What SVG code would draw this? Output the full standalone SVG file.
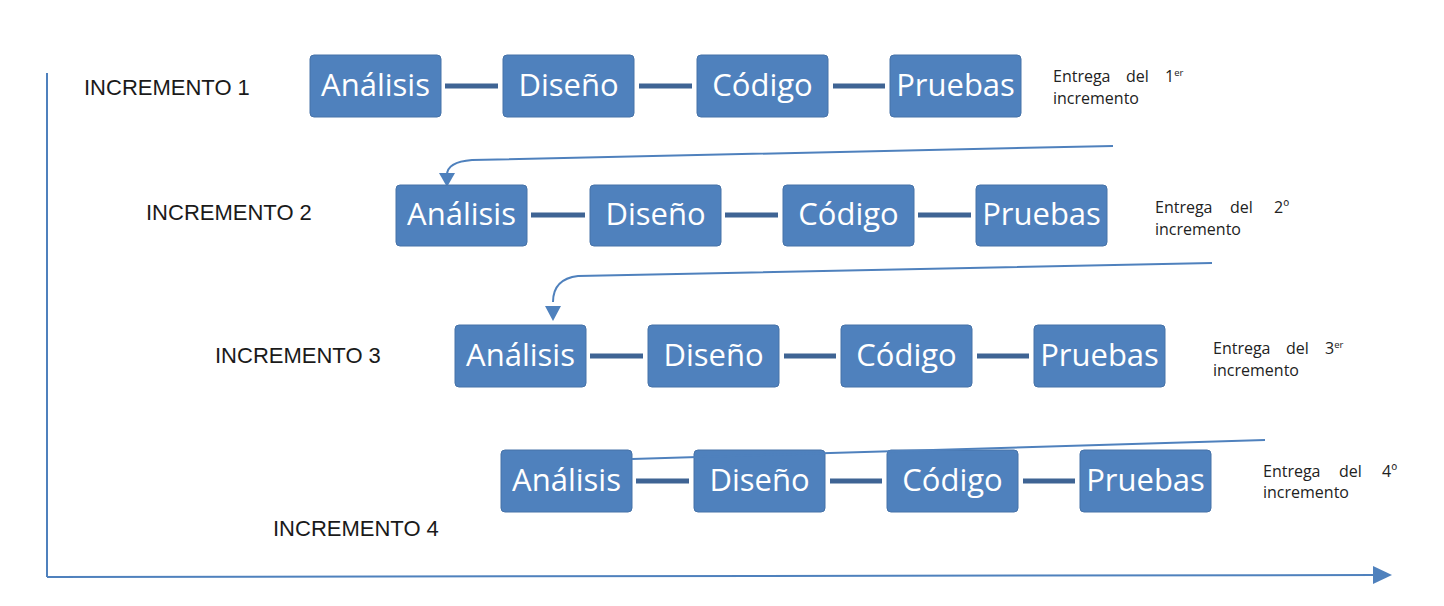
<svg xmlns="http://www.w3.org/2000/svg" width="1444" height="606" viewBox="0 0 1444 606">
<defs>
<style>
.box{fill:#4F81BD;stroke:#4672A8;stroke-width:1}
.bt{font-family:"Open Sans","Liberation Sans",sans-serif;font-size:31px;fill:#ffffff;text-anchor:middle}
.lk{stroke:#3F6494;stroke-width:5;fill:none}
.inc{font-family:"Liberation Sans",Arial,sans-serif;font-size:22px;fill:#1a1a1a}
.ent{font-family:"Open Sans","Liberation Sans",sans-serif;font-size:16px;fill:#222222}
.sup{font-size:9.5px}
.flow{stroke:#4F81BD;stroke-width:2;fill:none}
</style>
</defs>
<rect width="1444" height="606" fill="#ffffff"/>

<g id="axes">
<line class="flow" x1="47" y1="73" x2="47" y2="577"/>
<line class="flow" x1="47" y1="577" x2="1376" y2="575"/>
<path d="M1373,566 L1392,575 L1373,584 z" fill="#4F81BD"/>
</g>

<g id="labels">
<text class="inc" x="84" y="95">INCREMENTO 1</text>
<text class="inc" x="146" y="220">INCREMENTO 2</text>
<text class="inc" x="215" y="363">INCREMENTO 3</text>
<text class="inc" x="273" y="536">INCREMENTO 4</text>
</g>

<g id="connectors">
<line class="lk" x1="445" y1="86" x2="498" y2="86"/>
<line class="lk" x1="639" y1="86" x2="692" y2="86"/>
<line class="lk" x1="833" y1="86" x2="885" y2="86"/>
<line class="lk" x1="531" y1="215" x2="585" y2="215"/>
<line class="lk" x1="725" y1="215" x2="778" y2="215"/>
<line class="lk" x1="918" y1="215" x2="971" y2="215"/>
<line class="lk" x1="590" y1="356" x2="643" y2="356"/>
<line class="lk" x1="784" y1="356" x2="836" y2="356"/>
<line class="lk" x1="977" y1="356" x2="1029" y2="356"/>
<line class="lk" x1="636" y1="481" x2="689" y2="481"/>
<line class="lk" x1="830" y1="481" x2="882" y2="481"/>
<line class="lk" x1="1023" y1="481" x2="1075" y2="481"/>
<path class="flow" d="M1113,146 L472,160 Q447,162 447,175"/>
<path d="M439,173 L455,173 L447,187 z" fill="#4F81BD"/>
<path class="flow" d="M1212,263 L578,276 Q553,279 553,302"/>
<path d="M545,306 L561,306 L553,321 z" fill="#4F81BD"/>
</g>

<g id="row1">
<g id="r1-analisis"><rect class="box" x="310" y="55" width="131" height="62" rx="4"/><text class="bt" x="375.5" y="96">Análisis</text></g>
<g id="r1-diseno"><rect class="box" x="503" y="55" width="131" height="62" rx="4"/><text class="bt" x="568.5" y="96">Diseño</text></g>
<g id="r1-codigo"><rect class="box" x="697" y="55" width="131" height="62" rx="4"/><text class="bt" x="762.5" y="96">Código</text></g>
<g id="r1-pruebas"><rect class="box" x="890" y="55" width="131" height="62" rx="4"/><text class="bt" x="955.5" y="96">Pruebas</text></g>
</g>
<g id="row2">
<g id="r2-analisis"><rect class="box" x="396" y="185" width="131" height="61" rx="4"/><text class="bt" x="461.5" y="225">Análisis</text></g>
<g id="r2-diseno"><rect class="box" x="590" y="185" width="131" height="61" rx="4"/><text class="bt" x="655.5" y="225">Diseño</text></g>
<g id="r2-codigo"><rect class="box" x="783" y="185" width="131" height="61" rx="4"/><text class="bt" x="848.5" y="225">Código</text></g>
<g id="r2-pruebas"><rect class="box" x="976" y="185" width="131" height="61" rx="4"/><text class="bt" x="1041.5" y="225">Pruebas</text></g>
</g>
<g id="row3">
<g id="r3-analisis"><rect class="box" x="455" y="325" width="131" height="62" rx="4"/><text class="bt" x="520.5" y="366">Análisis</text></g>
<g id="r3-diseno"><rect class="box" x="648" y="325" width="131" height="62" rx="4"/><text class="bt" x="713.5" y="366">Diseño</text></g>
<g id="r3-codigo"><rect class="box" x="841" y="325" width="131" height="62" rx="4"/><text class="bt" x="906.5" y="366">Código</text></g>
<g id="r3-pruebas"><rect class="box" x="1034" y="325" width="131" height="62" rx="4"/><text class="bt" x="1099.5" y="366">Pruebas</text></g>
</g>
<g id="row4">
<g id="r4-analisis"><rect class="box" x="501" y="450" width="131" height="62" rx="4"/><text class="bt" x="566.5" y="491">Análisis</text></g>
<g id="r4-diseno"><rect class="box" x="694" y="450" width="131" height="62" rx="4"/><text class="bt" x="759.5" y="491">Diseño</text></g>
<g id="r4-codigo"><rect class="box" x="887" y="450" width="131" height="62" rx="4"/><text class="bt" x="952.5" y="491">Código</text></g>
<g id="r4-pruebas"><rect class="box" x="1080" y="450" width="131" height="62" rx="4"/><text class="bt" x="1145.5" y="491">Pruebas</text></g>
</g>
<g id="connector-4">
<path class="flow" d="M1265,440 L632,459"/>
</g>

<g id="entregas">
<text class="ent" y="82"><tspan x="1053">Entrega</tspan><tspan x="1126">del</tspan><tspan x="1165">1</tspan><tspan class="sup" dy="-6">er</tspan></text>
<text class="ent" x="1053" y="104">incremento</text>
<text class="ent" y="213"><tspan x="1155">Entrega</tspan><tspan x="1230">del</tspan><tspan x="1274">2º</tspan></text>
<text class="ent" x="1155" y="235">incremento</text>
<text class="ent" y="354"><tspan x="1213">Entrega</tspan><tspan x="1286">del</tspan><tspan x="1325">3</tspan><tspan class="sup" dy="-6">er</tspan></text>
<text class="ent" x="1213" y="376">incremento</text>
<text class="ent" y="477"><tspan x="1263">Entrega</tspan><tspan x="1339">del</tspan><tspan x="1382">4º</tspan></text>
<text class="ent" x="1263" y="498">incremento</text>
</g>
</svg>
